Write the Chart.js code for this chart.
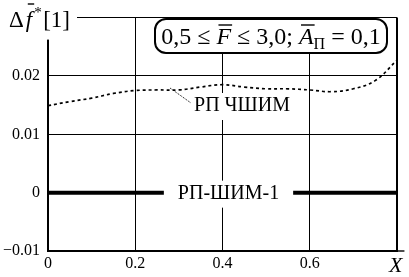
<!DOCTYPE html>
<html>
<head>
<meta charset="utf-8">
<script src="https://cdn.jsdelivr.net/npm/chart.js@4"></script>
<style>
  html, body { margin: 0; padding: 0; background: #fff; }
  #wrap { width: 409px; height: 277px; }
</style>
</head>
<body>
<div id="wrap"><canvas id="grafico"></canvas></div>
<script>
  // dados
  const xPontos = [0, 0.05, 0.1, 0.15, 0.2, 0.25, 0.3, 0.35, 0.4, 0.45, 0.5, 0.55, 0.6, 0.65, 0.7, 0.75, 0.8];
  const rpChshim = [0.0149, 0.0156, 0.0162, 0.0170, 0.0175, 0.0176, 0.0176, 0.0181, 0.0185, 0.0181, 0.0178, 0.0178, 0.0176, 0.0173, 0.0178, 0.0192, 0.0227];
  const xShim = [0, 0.8];
  const rpShim = [0, 0];
  const xTicks = [0, 0.2, 0.4, 0.6, 0.8];
  const yTicks = [-0.01, 0, 0.01, 0.02, 0.03];

  const SERIF = "'Liberation Serif', serif";

  function textoBarra(ctx, txt, x, y, italico, tam) {
    ctx.font = (italico ? 'italic ' : '') + tam + 'px ' + SERIF;
    const w = ctx.measureText(txt).width;
    ctx.fillText(txt, x, y);
    return w;
  }

  function barra(ctx, x, y, w) {
    ctx.beginPath();
    ctx.lineWidth = 1.4;
    ctx.moveTo(x, y);
    ctx.lineTo(x + w, y);
    ctx.stroke();
  }

  const anotacoes = {
    id: 'anotacoes',
    afterDraw(chart) {
      const ctx = chart.ctx;
      const area = chart.chartArea;
      const xs = chart.scales.x;
      const ys = chart.scales.y;
      ctx.save();
      ctx.fillStyle = '#000';
      ctx.strokeStyle = '#000';
      ctx.textBaseline = 'alphabetic';
      ctx.textAlign = 'left';

      // titulo eixo y
      ctx.fillStyle = '#fff';
      ctx.fillRect(0, 0, area.left + 29, area.top + 22);
      ctx.fillStyle = '#000';
      let x = 9;
      const by = 27;
      x += textoBarra(ctx, 'Δ', x, by, false, 23);
      x += 2;
      const wf = textoBarra(ctx, 'f', x, by, true, 23);
      barra(ctx, x + 2, 4, wf);
      x += wf + 2;
      textoBarra(ctx, '*', x, by - 10, false, 15);
      x += 9;
      textoBarra(ctx, '[1]', x, by, false, 23);

      // titulo eixo x
      const wx = textoBarra(ctx, 'X', area.right - 8, 272, true, 22);
      barra(ctx, area.right - 6, 251, wx);

      // caixa de parametros
      const bx0 = 155, bx1 = 387, by0 = 19, by1 = 53;
      ctx.beginPath();
      ctx.lineWidth = 2;
      ctx.fillStyle = '#fff';
      ctx.roundRect(bx0, by0, bx1 - bx0, by1 - by0, 11);
      ctx.fill();
      ctx.stroke();
      ctx.fillStyle = '#000';
      const tam = 24;
      const partes = [
        ['0,5 ≤ ', false, tam, 0, false],
        ['F', true, tam, 0, true],
        [' ≤ 3,0; ', false, tam, 0, false],
        ['A', true, tam, 0, true],
        ['П', false, 16, 5, false],
        [' = 0,1', false, tam, 0, false]
      ];
      let total = 0;
      partes.forEach(p => {
        ctx.font = (p[1] ? 'italic ' : '') + p[2] + 'px ' + SERIF;
        total += ctx.measureText(p[0]).width;
      });
      let px = (bx0 + bx1) / 2 - total / 2;
      const pby = 44;
      partes.forEach(p => {
        const w = textoBarra(ctx, p[0], px, pby + p[3], p[1], p[2]);
        if (p[4]) barra(ctx, px + 2, pby - 19, w - 1);
        px += w;
      });

      // rotulo RP-ShIM-1 sobre a linha zero
      ctx.font = '20px ' + SERIF;
      const t1 = 'РП-ШИМ-1';
      const w1 = ctx.measureText(t1).width;
      const cx1 = xs.getPixelForValue(0.4) + 6;
      const cy1 = ys.getPixelForValue(0);
      ctx.fillStyle = '#fff';
      ctx.fillRect(cx1 - w1 / 2 - 14, cy1 - 12, w1 + 28, 27);
      ctx.fillStyle = '#000';
      ctx.textAlign = 'center';
      ctx.textBaseline = 'middle';
      ctx.fillText(t1, cx1, cy1 + 1);

      // rotulo RP ChShIM com linha de chamada
      ctx.font = '20px ' + SERIF;
      const t2 = 'РП ЧШИМ';
      const w2 = ctx.measureText(t2).width;
      const cx2 = 242, cy2 = 106;
      ctx.fillStyle = '#fff';
      ctx.fillRect(cx2 - w2 / 2 - 2, cy2 - 13, w2 + 4, 27);
      ctx.fillStyle = '#000';
      ctx.fillText(t2, cx2, cy2);
      ctx.beginPath();
      ctx.lineWidth = 1;
      ctx.setLineDash([1, 1]);
      ctx.moveTo(170, 88);
      ctx.lineTo(191, 103);
      ctx.stroke();
      ctx.restore();
    }
  };

  const ctx = document.getElementById('grafico').getContext('2d');
  new Chart(ctx, {
    type: 'line',
    data: {
      datasets: [{
        label: 'РП ЧШИМ',
        data: xPontos.map((v, i) => ({ x: v, y: rpChshim[i] })),
        borderColor: '#000',
        borderWidth: 1.7,
        borderDash: [3, 3],
        pointRadius: 0,
        tension: 0.4,
        fill: false
      }, {
        label: 'РП-ШИМ-1',
        data: xShim.map((v, i) => ({ x: v, y: rpShim[i] })),
        borderColor: '#000',
        borderWidth: 4,
        pointRadius: 0,
        fill: false
      }]
    },
    options: {
      responsive: true,
      maintainAspectRatio: false,
      animation: false,
      layout: { padding: { top: 14, right: 12, left: 0, bottom: 0 } },
      plugins: { legend: { display: false }, tooltip: { enabled: false } },
      scales: {
        x: {
          type: 'linear',
          min: 0,
          max: 0.8,
          afterBuildTicks: s => { s.ticks = xTicks.map(v => ({ value: v })); },
          afterFit: s => { s.height = 26; },
          grid: {
            color: '#000',
            drawTicks: false,
            lineWidth: c => (c.tick && c.tick.value === 0.8 ? 2 : 1)
          },
          border: { display: true, color: '#000', width: 2 },
          ticks: {
            padding: 3,
            color: '#000',
            font: { family: SERIF, size: 16 },
            maxRotation: 0,
            callback: v => (v === 0.8 ? '' : String(v))
          }
        },
        y: {
          type: 'linear',
          min: -0.01,
          max: 0.03,
          afterBuildTicks: s => { s.ticks = yTicks.map(v => ({ value: v })); },
          afterFit: s => { s.width = 48; },
          grid: {
            color: '#000',
            drawTicks: false,
            lineWidth: 1
          },
          border: { display: true, color: '#000', width: 2 },
          ticks: {
            padding: 8,
            color: '#000',
            font: { family: SERIF, size: 16 },
            callback: v => {
              if (v === 0.03) return '';
              if (v === 0) return '0';
              return (v < 0 ? '−' : '') + Math.abs(v).toFixed(2);
            }
          }
        }
      }
    },
    plugins: [anotacoes]
  });
</script>
</body>
</html>
